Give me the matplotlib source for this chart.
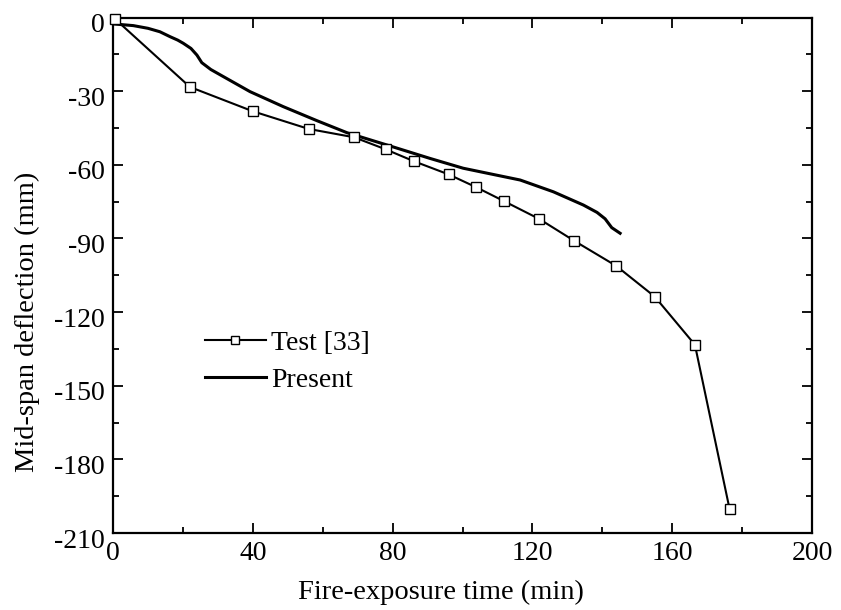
import matplotlib
matplotlib.use("Agg")
import matplotlib.pyplot as plt
import matplotlib.transforms as mtransforms
from matplotlib.ticker import MultipleLocator

# Data
test_x = [0.5, 22, 40, 56, 69, 78, 86, 96, 104, 112, 122, 132, 144, 155, 166.5, 176.4]
test_y = [-0.5, -28.3, -38.2, -45.4, -48.8, -53.7, -58.5, -63.9, -69.2, -74.9, -82.1, -91.0, -101.2, -113.7, -133.3, -200.1]

present_x = [0, 5.8, 10.0, 13.4, 16.3, 18.5, 20.1, 22.3, 24.0, 25.4, 28.0, 31.6, 39.2, 48.7, 58.3, 66.9, 78.3,
             90.7, 100.2, 108.0, 116.5, 126.0, 134.6, 138.5, 140.8, 142.7, 145.1]
present_y = [-2.6, -3.3, -4.4, -5.8, -7.8, -9.2, -10.5, -12.6, -15.3, -18.4, -21.2, -24.1, -30.2, -36.3, -42.0, -46.9, -51.9,
             -57.4, -61.4, -63.7, -66.2, -71.0, -76.4, -79.4, -82.0, -85.6, -87.9]

x_ticks = [0, 40, 80, 120, 160, 200]
y_ticks = [0, -30, -60, -90, -120, -150, -180, -210]

plt.rcParams['font.family'] = ['Liberation Serif', 'DejaVu Serif']
plt.rcParams['axes.unicode_minus'] = False

fig = plt.figure(figsize=(8.41, 6.10), dpi=100)
ax = fig.add_axes([0.1344, 0.1262, 0.9655 - 0.1344, 0.9713 - 0.1262])

ax.plot(test_x, test_y, color='black', lw=1.5, marker='s', ms=7.5,
        mfc='white', mec='black', mew=1.0, label='Test [33]', clip_on=False, zorder=3)
ax.plot(present_x, present_y, color='black', lw=2.2, label='Present', zorder=2)

ax.set_xlim(0, 200)
ax.set_ylim(-210, 0)
ax.set_xticks(x_ticks)
ax.set_yticks(y_ticks)
ax.xaxis.set_minor_locator(MultipleLocator(20))
ax.yaxis.set_minor_locator(MultipleLocator(15))
ax.tick_params(which='both', direction='in', top=True, right=True, width=1.3,
               labelsize=20, pad=6)
ax.tick_params(which='major', length=7)
ax.tick_params(which='minor', length=4)
for s in ax.spines.values():
    s.set_linewidth(1.6)

# Origin-style slight downward offset of y tick labels
offset = mtransforms.ScaledTranslation(0, -5 / 100, fig.dpi_scale_trans)
for lbl in ax.get_yticklabels():
    lbl.set_transform(lbl.get_transform() + offset)

ax.set_xlabel('Fire-exposure time (min)', fontsize=20.5, labelpad=9.5)
ax.set_ylabel('Mid-span deflection (mm)', fontsize=20.5, labelpad=10)
ax.xaxis.label.set_x(0.469)
ax.yaxis.label.set_y(0.41)

ax.legend(loc='upper left', bbox_to_anchor=(0.115, 0.414), frameon=False,
          fontsize=20, handlelength=2.2, handletextpad=0.2, labelspacing=0.4,
          markerscale=0.8, borderaxespad=0)

fig.savefig('out.png', dpi=100)
